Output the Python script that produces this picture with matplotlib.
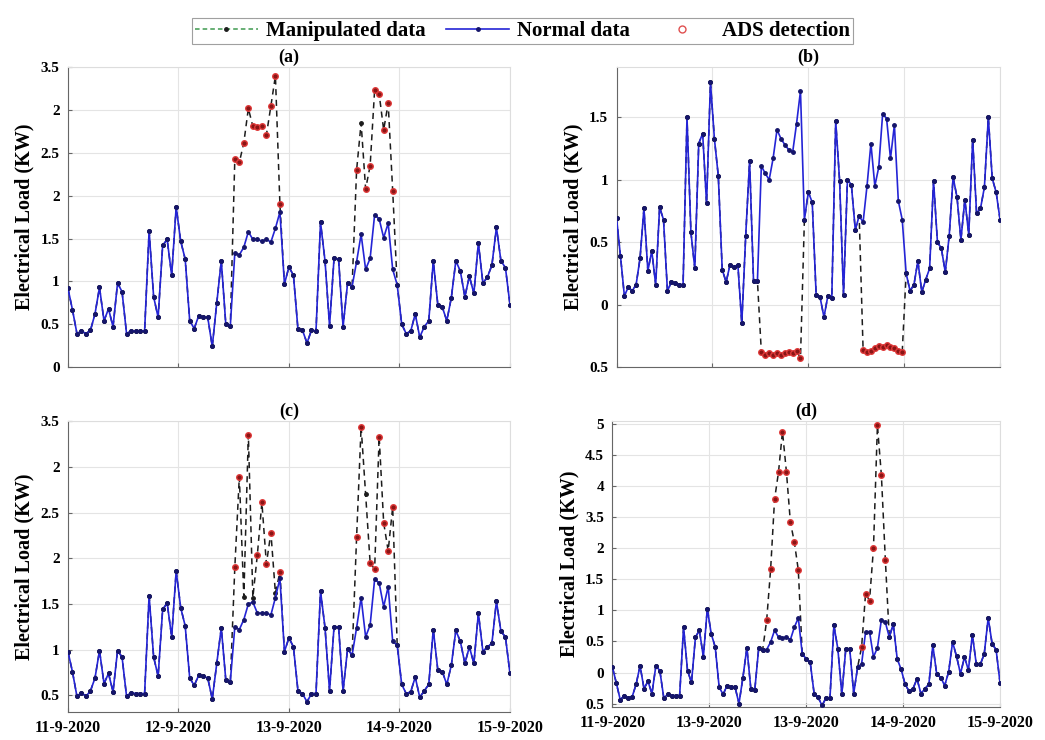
import numpy as np
import matplotlib
matplotlib.use('Agg')
import matplotlib.pyplot as plt
from matplotlib.lines import Line2D

plt.rcParams['font.family'] = ['Liberation Serif', 'DejaVu Serif']
plt.rcParams['font.weight'] = 'bold'

# ---- valeurs (une valeur par heure) ----
normal_a = [0.92, 0.67, 0.39, 0.42, 0.39, 0.43, 0.62, 0.93, 0.54, 0.68,
            0.47, 0.98, 0.88, 0.39, 0.42, 0.42, 0.42, 0.42, 1.59, 0.82,
            0.58, 1.42, 1.49, 1.07, 1.87, 1.47, 1.26, 0.54, 0.45, 0.60,
            0.58, 0.58, 0.24, 0.75, 1.24, 0.50, 0.48, 1.33, 1.31, 1.40,
            1.58, 1.49, 1.49, 1.47, 1.49, 1.46, 1.62, 1.81, 0.97, 1.17,
            1.07, 0.44, 0.43, 0.28, 0.43, 0.42, 1.69, 1.24, 0.48, 1.27,
            1.26, 0.47, 0.98, 0.94, 1.23, 1.55, 1.14, 1.27, 1.78, 1.73,
            1.51, 1.68, 1.14, 0.96, 0.50, 0.39, 0.42, 0.62, 0.35, 0.47,
            0.54, 1.24, 0.73, 0.70, 0.54, 0.81, 1.24, 1.12, 0.82, 1.06,
            0.86, 1.45, 0.98, 1.05, 1.19, 1.63, 1.24, 1.16, 0.73]

normal_b = [0.69, 0.39, 0.07, 0.14, 0.11, 0.16, 0.37, 0.77, 0.27, 0.43,
            0.16, 0.78, 0.68, 0.11, 0.18, 0.17, 0.16, 0.16, 1.50, 0.58,
            0.29, 1.29, 1.37, 0.81, 1.78, 1.33, 1.03, 0.28, 0.18, 0.32,
            0.30, 0.32, -0.15, 0.55, 1.15, 0.19, 0.19, 1.11, 1.05, 1.00,
            1.17, 1.40, 1.33, 1.28, 1.24, 1.22, 1.45, 1.71, 0.68, 0.90,
            0.82, 0.08, 0.06, -0.10, 0.07, 0.05, 1.47, 0.99, 0.08, 1.00,
            0.96, 0.60, 0.71, 0.66, 0.95, 1.29, 0.95, 1.10, 1.53, 1.49,
            1.17, 1.44, 0.83, 0.68, 0.25, 0.11, 0.16, 0.35, 0.10, 0.20,
            0.29, 0.99, 0.50, 0.45, 0.26, 0.55, 1.02, 0.86, 0.52, 0.84,
            0.56, 1.32, 0.73, 0.77, 0.94, 1.50, 1.01, 0.90, 0.68]

normal_c = [0.98, 0.76, 0.49, 0.53, 0.49, 0.55, 0.69, 0.99, 0.63, 0.74,
            0.54, 0.99, 0.92, 0.49, 0.53, 0.52, 0.52, 0.52, 1.59, 0.92,
            0.71, 1.44, 1.51, 1.14, 1.86, 1.46, 1.26, 0.69, 0.61, 0.72,
            0.71, 0.69, 0.46, 0.85, 1.24, 0.67, 0.65, 1.25, 1.22, 1.33,
            1.50, 1.52, 1.40, 1.40, 1.40, 1.38, 1.57, 1.78, 0.98, 1.13,
            1.03, 0.55, 0.52, 0.43, 0.52, 0.52, 1.64, 1.24, 0.55, 1.25,
            1.25, 0.55, 1.01, 0.94, 1.24, 1.57, 1.14, 1.27, 1.77, 1.73,
            1.47, 1.69, 1.09, 1.05, 0.62, 0.52, 0.54, 0.70, 0.48, 0.55,
            0.62, 1.22, 0.78, 0.76, 0.62, 0.83, 1.21, 1.09, 0.85, 1.03,
            0.85, 1.40, 0.98, 1.03, 1.07, 1.53, 1.20, 1.14, 0.74]

normal_d = [1.09, 0.83, 0.56, 0.63, 0.59, 0.61, 0.81, 1.11, 0.74, 0.86,
            0.66, 1.11, 1.03, 0.59, 0.65, 0.63, 0.63, 0.63, 1.73, 1.03,
            0.84, 1.57, 1.68, 1.25, 2.03, 1.62, 1.41, 0.76, 0.65, 0.79,
            0.77, 0.77, 0.50, 0.92, 1.40, 0.74, 0.72, 1.40, 1.37, 1.37,
            1.49, 1.68, 1.57, 1.56, 1.57, 1.53, 1.73, 1.88, 1.30, 1.22,
            1.17, 0.66, 0.60, 0.47, 0.59, 0.59, 1.76, 1.38, 0.65, 1.38,
            1.38, 0.66, 1.09, 1.14, 1.65, 1.66, 1.25, 1.40, 1.85, 1.81,
            1.57, 1.78, 1.22, 1.05, 0.81, 0.70, 0.74, 0.90, 0.66, 0.74,
            0.81, 1.44, 0.97, 0.92, 0.79, 1.01, 1.49, 1.26, 0.98, 1.25,
            1.04, 1.61, 1.13, 1.13, 1.30, 1.88, 1.46, 1.37, 0.83]

# attaques : indices, valeurs manipulees, points detectes par l'ADS
attack_idx_a = list(range(37, 48)) + list(range(64, 73))
attack_val_a = [2.43, 2.39, 2.62, 3.02, 2.81, 2.80, 2.81, 2.71, 3.05, 3.40, 1.90,
                2.30, 2.85, 2.08, 2.35, 3.24, 3.19, 2.77, 3.08, 2.06]
detect_a = [37, 38, 39, 40, 41, 42, 43, 44, 45, 46, 47, 64, 66, 67, 68, 69, 70, 71, 72]

attack_idx_b = list(range(37, 48)) + list(range(63, 74))
attack_val_b = [-0.38, -0.40, -0.39, -0.40, -0.39, -0.40, -0.39, -0.38, -0.39, -0.37, -0.43,
                -0.36, -0.38, -0.37, -0.35, -0.33, -0.34, -0.32, -0.34, -0.35, -0.37, -0.38]
detect_b = attack_idx_b

attack_idx_c = list(range(37, 48)) + list(range(64, 73))
attack_val_c = [1.90, 2.89, 1.58, 3.35, 1.57, 2.04, 2.61, 1.94, 2.28, 1.62, 1.85,
                2.23, 3.44, 2.70, 1.95, 1.88, 3.33, 2.39, 2.08, 2.56]
detect_c = [37, 38, 40, 42, 43, 44, 45, 47, 64, 65, 67, 68, 69, 70, 71, 72]

attack_idx_d = list(range(39, 48)) + list(range(63, 70))
attack_val_d = [1.84, 2.66, 3.79, 4.23, 4.88, 4.23, 3.42, 3.10, 2.65,
                1.41, 2.27, 2.16, 3.00, 4.98, 4.18, 2.82]
detect_d = attack_idx_d

date_labels_c = ['11-9-2020', '12-9-2020', '13-9-2020', '14-9-2020', '15-9-2020']
date_labels_d = ['11-9-2020', '13-9-2020', '13-9-2020', '14-9-2020', '15-9-2020']

yticks_a = [0, 0.5, 1, 1.5, 2, 2.5, 3, 3.5]
ylabels_a = ['0', '0.5', '1', '1.5', '2', '2.5', '2', '3.5']
yticks_b = [-0.5, 0, 0.5, 1, 1.5]
ylabels_b = ['0.5', '0', '0.5', '1', '1.5']
yticks_c = [0.5, 1, 1.5, 2, 2.5, 3, 3.5]
ylabels_c = ['0.5', '1', '1.5', '2', '2.5', '2', '3.5']
yticks_d = [0.5, 1, 1.5, 2, 2.5, 3, 3.5, 4, 4.5, 5]
ylabels_d = ['0.5', '0', '0.5', '1', '1.5', '2', '3.5', '4', '4.5', '5']

panels = [
    ('(a)', normal_a, attack_idx_a, attack_val_a, detect_a, yticks_a, ylabels_a, (0, 3.5), None),
    ('(b)', normal_b, attack_idx_b, attack_val_b, detect_b, yticks_b, ylabels_b, (-0.5, 1.9), None),
    ('(c)', normal_c, attack_idx_c, attack_val_c, detect_c, yticks_c, ylabels_c, (0.32, 3.5), date_labels_c),
    ('(d)', normal_d, attack_idx_d, attack_val_d, detect_d, yticks_d, ylabels_d, (0.45, 5.05), date_labels_d),
]

# positions des axes (fraction de la figure)
rects = [[0.065, 0.504, 0.423, 0.405],
         [0.590, 0.504, 0.367, 0.405],
         [0.065, 0.038, 0.423, 0.393],
         [0.586, 0.045, 0.371, 0.386]]

blue = '#2424d6'
dark = '#1c1c1c'

fig = plt.figure(figsize=(10.45, 7.4), dpi=100)

for (title, normal, a_idx, a_val, det, yt, yl, ylim, xl), rect in zip(panels, rects):
    ax = fig.add_axes(rect)
    normal = np.array(normal)
    x = np.arange(len(normal))
    manip = normal.copy()
    manip[a_idx] = a_val

    ax.plot(x, manip, linestyle=(0, (4, 3)), color=dark, lw=1.1,
            marker='.', ms=5, zorder=2)
    ax.plot(x, normal, '-', color=blue, lw=1.2, marker='.', ms=5,
            mfc='#15156a', mec='#15156a', zorder=3)
    ax.plot(x[det], manip[det], 'o', ms=4, mfc='#8a1515', mec='#e03a3a',
            mew=1.0, zorder=4)

    ax.set_xlim(0, len(normal) - 1)
    ax.set_ylim(*ylim)
    ax.set_xticks(np.linspace(0, len(normal) - 1, 5))
    if xl is None:
        ax.set_xticklabels([])
    else:
        ax.set_xticklabels(xl, fontsize=11.5, fontweight='bold')
    ax.set_yticks(yt)
    ax.set_yticklabels(yl, fontsize=11, fontweight='bold')
    ax.tick_params(direction='in', length=3, color='#666666', pad=6)
    ax.grid(True, color='#e4e4e4', lw=0.8)
    ax.set_axisbelow(True)
    for s in ['left', 'bottom']:
        ax.spines[s].set_color('#666666')
    for s in ['top', 'right']:
        ax.spines[s].set_color('#dddddd')
    ax.set_ylabel('Electrical Load (KW)', fontsize=14.5, fontweight='bold',
                  labelpad=4)
    ax.set_title(title, fontsize=13, fontweight='bold', pad=4)

handles = [
    Line2D([], [], linestyle=(0, (3, 2)), color='#3f9a4f', lw=1.1, marker='.',
           ms=5, mfc=dark, mec=dark),
    Line2D([], [], linestyle='-', color=blue, lw=1.2, marker='.', ms=5,
           mfc='#15156a', mec='#15156a'),
    Line2D([], [], linestyle='none', marker='o', ms=5, mfc='none', mec='#e05050'),
]
leg = fig.legend(handles, ['Manipulated data', 'Normal data', 'ADS detection'],
                 loc='upper center', bbox_to_anchor=(0.5, 0.99), ncol=3,
                 prop={'size': 15, 'weight': 'bold'}, frameon=True, fancybox=False,
                 borderpad=0.15, handlelength=3.0, columnspacing=1.0,
                 handletextpad=0.4)
leg.get_frame().set_edgecolor('#888888')
leg.get_frame().set_linewidth(0.8)

fig.savefig('out.png', dpi=100)
